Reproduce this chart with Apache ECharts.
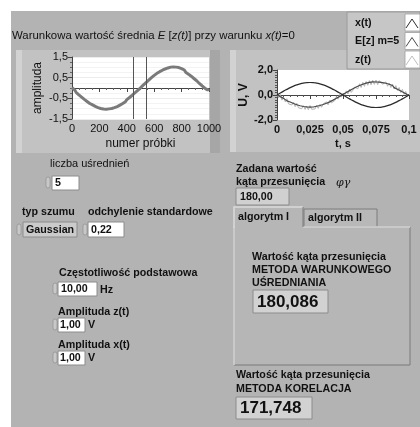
<!DOCTYPE html>
<html>
<head>
<meta charset="utf-8">
<script src="https://cdn.jsdelivr.net/npm/echarts@6/dist/echarts.min.js"></script>
<style>
html, body { margin: 0; padding: 0; background: #fff; }
#main { width: 420px; height: 427px; }
</style>
</head>
<body>
<div id="main"></div>
<script>
// --- dane ---
// warunkowa wartosc srednia E[z(t)], co 10 probek (0..1000)
const sredniaWar = [
  0.02, -0.05, -0.10, -0.21, -0.23, -0.33, -0.35, -0.44, -0.47, -0.55,
  -0.57, -0.65, -0.67, -0.75, -0.76, -0.82, -0.83, -0.89, -0.90, -0.95,
  -0.93, -0.99, -0.96, -1.02, -0.98, -1.03, -0.97, -1.01, -0.96, -0.99,
  -0.93, -0.95, -0.88, -0.90, -0.82, -0.83, -0.76, -0.75, -0.66, -0.66,
  -0.56, -0.57, -0.46, -0.45, -0.35, -0.34, -0.23, -0.22, -0.11, -0.08,
  0.01, 0.04, 0.14, 0.17, 0.26, 0.29, 0.38, 0.41, 0.50, 0.51,
  0.61, 0.62, 0.71, 0.70, 0.79, 0.78, 0.86, 0.85, 0.92, 0.90,
  0.97, 0.94, 1.01, 0.97, 1.02, 0.98, 1.01, 0.96, 0.99, 0.92,
  0.94, 0.85, 0.87, 0.76, 0.78, 0.67, 0.70, 0.57, 0.59, 0.46,
  0.48, 0.35, 0.34, 0.22, 0.22, 0.10, 0.09, -0.01, -0.05, -0.10,
  -0.04
];
const krokProbki = 10;
const kursory = [450, 545];

// x(t), co 0,0025 s
const xt = [
  0, 0.16, 0.31, 0.45, 0.59, 0.71, 0.81, 0.89, 0.95, 0.99,
  1.0, 0.99, 0.95, 0.89, 0.81, 0.71, 0.59, 0.45, 0.31, 0.16,
  0, -0.16, -0.31, -0.45, -0.59, -0.71, -0.81, -0.89, -0.95, -0.99,
  -1.0, -0.99, -0.95, -0.89, -0.81, -0.71, -0.59, -0.45, -0.31, -0.16,
  0
];
const krokXt = 0.0025;

// E[z] m=5 oraz z(t), co 0,00125 s
const ez = [
  0.03, -0.12, -0.13, -0.29, -0.27, -0.42, -0.47, -0.57, -0.56, -0.70,
  -0.68, -0.81, -0.78, -0.90, -0.86, -0.98, -0.92, -1.03, -0.95, -1.04,
  -0.97, -1.05, -0.96, -1.01, -0.90, -0.97, -0.84, -0.88, -0.76, -0.80,
  -0.66, -0.69, -0.55, -0.56, -0.41, -0.42, -0.26, -0.27, -0.11, -0.10,
  0.05, 0.04, 0.20, 0.21, 0.35, 0.36, 0.50, 0.49, 0.64, 0.61,
  0.76, 0.72, 0.86, 0.82, 0.95, 0.89, 1.01, 0.93, 1.05, 0.96,
  1.04, 0.95, 1.03, 0.92, 0.99, 0.87, 0.94, 0.80, 0.86, 0.70,
  0.76, 0.59, 0.64, 0.46, 0.50, 0.32, 0.35, 0.18, 0.19, 0.03,
  0.02
];
const zt = [
  0.05, -0.22, 0.04, -0.41, -0.18, -0.55, -0.30, -0.71, -0.62, -0.80,
  -0.58, -0.93, -0.66, -1.02, -0.98, -1.10, -0.85, -1.15, -0.88, -1.18,
  -0.84, -1.14, -1.06, -1.12, -0.82, -1.07, -0.75, -0.98, -0.70, -0.86,
  -0.55, -0.79, -0.40, -0.62, -0.58, -0.45, -0.12, -0.33, 0.06, -0.17,
  0.15, -0.05, 0.33, 0.08, 0.48, 0.21, 0.38, 0.63, 0.78, 0.50,
  0.90, 0.60, 1.02, 0.69, 1.08, 0.78, 1.15, 0.82, 1.18, 0.85,
  1.20, 0.83, 1.15, 1.10, 0.86, 0.78, 1.05, 0.70, 0.96, 0.60,
  0.88, 0.48, 0.75, 0.36, 0.60, 0.20, 0.45, 0.05, 0.28, -0.10,
  0.05
];
const krokZ = 0.00125;

const legenda = ['x(t)', 'E[z] m=5', 'z(t)'];
const koloryLegendy = ['#2b2b2b', '#4a4a4a', '#bdbdbd'];

const FONT = '"Liberation Sans", Arial, sans-serif';
const PANEL = '#b3b3b3';

function przecinek(v, d) {
  return v.toFixed(d).replace('.', ',');
}

function napis(x, y, t, font, dod) {
  return Object.assign({
    type: 'text', x: x, y: y, z: 30, silent: true,
    style: { text: t, font: font, fill: '#111', verticalAlign: 'middle' }
  }, dod || {});
}
function pole(x, y, w, h, fill) {
  return {
    type: 'rect', z: 20, silent: true,
    shape: { x: x, y: y, width: w, height: h },
    style: { fill: fill || '#fff', stroke: '#8c8c8c', lineWidth: 1 }
  };
}
function strzalki(x, y) {
  return {
    type: 'rect', z: 20, silent: true,
    shape: { x: x, y: y, width: 4, height: 11, r: 2 },
    style: { fill: '#c8c8c8', stroke: '#8f8f8f', lineWidth: 0.7 }
  };
}
function prostokat(x, y, w, h, fill, z) {
  return { type: 'rect', z: z || 1, silent: true, shape: { x: x, y: y, width: w, height: h }, style: { fill: fill } };
}

const B11 = 'bold 10.7px ' + FONT;
const R11 = '11px ' + FONT;

const elementy = [
  prostokat(11, 11, 409, 416, PANEL, 0),
  // ramki wykresow
  prostokat(16, 50, 204, 103, '#c2c2c2', 1),
  prostokat(16, 50, 6, 103, '#d2d2d2', 2),
  prostokat(210, 50, 10, 103, '#a6a6a6', 2),
  prostokat(230, 50, 190, 102, '#c2c2c2', 1),
  prostokat(230, 50, 6, 102, '#d2d2d2', 2),
  // tytul
  {
    type: 'text', x: 12, y: 36, z: 30, silent: true,
    style: {
      text: 'Warunkowa wartość średnia {i|E} [{i|z(t)}] przy warunku {i|x(t)}=0',
      font: '11.4px ' + FONT, fill: '#111', verticalAlign: 'middle',
      rich: { i: { fontStyle: 'italic', fontSize: 11.4, fontFamily: FONT, fill: '#111' } }
    }
  },
  // legenda
  { type: 'rect', z: 25, silent: true, shape: { x: 347, y: 12, width: 73, height: 57 },
    style: { fill: '#c6c6c6', stroke: '#9a9a9a', lineWidth: 1 } }
];
legenda.forEach(function (nazwa, i) {
  const y0 = 14 + i * 18.5;
  elementy.push(napis(355, y0 + 9, nazwa, B11));
  elementy.push({ type: 'rect', z: 26, silent: true, shape: { x: 405, y: y0, width: 15, height: 17 },
    style: { fill: '#fff', stroke: '#a0a0a0', lineWidth: 0.8 } });
  elementy.push({ type: 'polyline', z: 27, silent: true,
    shape: { points: [[406, y0 + 14], [412, y0 + 5], [418, y0 + 14]] },
    style: { stroke: koloryLegendy[i], lineWidth: 1, fill: null } });
});

elementy.push(
  // lewa kolumna kontrolek
  napis(50, 164, 'liczba uśrednień', R11),
  strzalki(46, 177), pole(52, 176, 27, 14), napis(55, 183, '5', B11),
  napis(22, 212, 'typ szumu', B11),
  napis(88, 212, 'odchylenie standardowe', B11),
  strzalki(17, 224), pole(23, 222, 54, 15, '#cbcbcb'), napis(26, 230, 'Gaussian', B11),
  strzalki(83, 224), pole(88, 222, 36, 15), napis(91, 230, '0,22', B11),
  napis(59, 273, 'Częstotliwość podstawowa', B11),
  strzalki(53, 283), pole(58, 282, 39, 14), napis(61, 289, '10,00', B11),
  napis(100, 290, 'Hz', B11),
  napis(58, 312, 'Amplituda z(t)', B11),
  strzalki(53, 319), pole(58, 318, 27, 14), napis(60, 325, '1,00', B11),
  napis(88, 325, 'V', B11),
  napis(58, 345, 'Amplituda x(t)', B11),
  strzalki(53, 352), pole(58, 351, 27, 14), napis(60, 358, '1,00', B11),
  napis(88, 358, 'V', B11),
  // prawa kolumna
  napis(236, 169, 'Zadana wartość', B11),
  napis(236, 182, 'kąta przesunięcia', B11),
  napis(336, 183, 'φγ', 'italic 11px "DejaVu Serif", serif'),
  pole(236, 188, 53, 17, '#d0d0d0'), napis(240, 197, '180,00', B11),
  // zakladki
  { type: 'rect', z: 10, silent: true, shape: { x: 304, y: 209, width: 73, height: 18 },
    style: { fill: '#b8b8b8', stroke: '#7c7c7c', lineWidth: 1 } },
  { type: 'rect', z: 11, silent: true, shape: { x: 234, y: 227, width: 176, height: 138 },
    style: { fill: '#b6b6b6', stroke: '#7a7a7a', lineWidth: 1 } },
  { type: 'polyline', z: 12, silent: true,
    shape: { points: [[234, 365], [234, 227], [410, 227]] },
    style: { stroke: '#dadada', lineWidth: 1.5, fill: null } },
  { type: 'rect', z: 12, silent: true, shape: { x: 234, y: 207, width: 69, height: 21 },
    style: { fill: '#b6b6b6', stroke: null } },
  { type: 'polyline', z: 13, silent: true,
    shape: { points: [[234, 228], [234, 207], [303, 207]] },
    style: { stroke: '#dadada', lineWidth: 1.5, fill: null } },
  { type: 'polyline', z: 13, silent: true,
    shape: { points: [[303, 207], [303, 227]] },
    style: { stroke: '#7a7a7a', lineWidth: 1, fill: null } },
  napis(238, 217, 'algorytm I', B11),
  napis(308, 218, 'algorytm II', B11),
  napis(252, 257, 'Wartość kąta przesunięcia', B11),
  napis(252, 270, 'METODA WARUNKOWEGO', B11),
  napis(252, 283, 'UŚREDNIANIA', B11),
  pole(253, 290, 75, 23, '#d2d2d2'), napis(257, 302, '180,086', 'bold 17px ' + FONT),
  napis(236, 375, 'Wartość kąta przesunięcia', B11),
  napis(236, 389, 'METODA KORELACJA', B11),
  pole(236, 397, 76, 22, '#d2d2d2'), napis(240, 408, '171,748', 'bold 17px ' + FONT)
);

const daneLewe = sredniaWar.map(function (v, i) { return [i * krokProbki, v]; });
const daneXt = xt.map(function (v, i) { return [i * krokXt, v]; });
const daneEz = ez.map(function (v, i) { return [i * krokZ, v]; });
const daneZt = zt.map(function (v, i) { return [i * krokZ, v]; });

const chart = echarts.init(document.getElementById('main'));

const liniaKursora = { color: '#555', width: 1, type: 'solid' };

const option = {
  animation: false,
  backgroundColor: '#fff',
  textStyle: { fontFamily: FONT },
  grid: [
    { left: 72, top: 57, width: 137, height: 62, show: true, backgroundColor: '#fff', borderWidth: 0, z: 5 },
    { left: 277, top: 70, width: 132, height: 50, show: true, backgroundColor: '#fff', borderWidth: 0, z: 5 }
  ],
  xAxis: [
    {
      gridIndex: 0, type: 'value', min: 0, max: 1000, interval: 200, z: 6,
      name: 'numer próbki', nameLocation: 'middle', nameGap: 19,
      nameTextStyle: { fontSize: 12, color: '#111' },
      axisLine: { lineStyle: { color: '#444' } },
      axisTick: { length: 4, lineStyle: { color: '#444' } },
      minorTick: { show: true, splitNumber: 4, length: 2, lineStyle: { color: '#666' } },
      splitLine: { show: false },
      axisLabel: { fontSize: 11, color: '#111', margin: 4, formatter: function (v) { return String(v); } }
    },
    {
      gridIndex: 1, type: 'value', min: 0, max: 0.1, interval: 0.025, z: 6,
      name: 't, s', nameLocation: 'middle', nameGap: 18,
      nameTextStyle: { fontSize: 11, fontWeight: 'bold', color: '#111' },
      axisLine: { lineStyle: { color: '#444' } },
      axisTick: { length: 4, lineStyle: { color: '#444' } },
      minorTick: { show: true, splitNumber: 5, length: 2, lineStyle: { color: '#555' } },
      splitLine: { show: false },
      axisLabel: {
        fontSize: 11, fontWeight: 'bold', color: '#111', margin: 4,
        formatter: function (v) { return v === 0 ? '0' : String(+v.toFixed(3)).replace('.', ','); }
      }
    }
  ],
  yAxis: [
    {
      gridIndex: 0, type: 'value', min: -1.5, max: 1.5, interval: 1, z: 6,
      name: 'amplituda', nameLocation: 'middle', nameGap: 28, nameRotate: 90,
      nameTextStyle: { fontSize: 12, color: '#111' },
      axisLine: { show: true, lineStyle: { color: '#444' } },
      axisTick: { show: true, length: 4, lineStyle: { color: '#444' } },
      minorTick: { show: true, splitNumber: 4, length: 2, lineStyle: { color: '#666' } },
      splitLine: { show: true, lineStyle: { color: '#ececec' } },
      minorSplitLine: { show: true, lineStyle: { color: '#f3f3f3' } },
      axisLabel: { fontSize: 11, color: '#111', margin: 4, formatter: function (v) { return przecinek(v, 1); } }
    },
    {
      gridIndex: 1, type: 'value', min: -2, max: 2, interval: 2, z: 6,
      name: 'U, V', nameLocation: 'middle', nameGap: 26, nameRotate: 90,
      nameTextStyle: { fontSize: 12, fontWeight: 'bold', color: '#111' },
      axisLine: { show: true, lineStyle: { color: '#444' } },
      axisTick: { show: true, length: 4, lineStyle: { color: '#444' } },
      minorTick: { show: true, splitNumber: 10, length: 2, lineStyle: { color: '#555' } },
      splitLine: { show: false },
      axisLabel: { fontSize: 11, fontWeight: 'bold', color: '#111', margin: 4, formatter: function (v) { return przecinek(v, 1); } }
    }
  ],
  series: [
    {
      name: 'E[z(t)]', type: 'line', xAxisIndex: 0, yAxisIndex: 0, z: 7,
      data: daneLewe, showSymbol: false,
      lineStyle: { color: '#7a7a7a', width: 3 },
      markLine: {
        z: 9, silent: true, symbol: 'none', label: { show: false },
        lineStyle: liniaKursora,
        emphasis: { disabled: true },
        data: kursory.map(function (k) { return { xAxis: k, lineStyle: liniaKursora }; })
      }
    },
    {
      name: legenda[2], type: 'line', xAxisIndex: 1, yAxisIndex: 1, z: 7,
      data: daneZt, showSymbol: false,
      lineStyle: { color: '#b4b4b4', width: 1 }
    },
    {
      name: legenda[1], type: 'line', xAxisIndex: 1, yAxisIndex: 1, z: 8,
      data: daneEz, showSymbol: false,
      lineStyle: { color: koloryLegendy[1], width: 1.2 }
    },
    {
      name: legenda[0], type: 'line', xAxisIndex: 1, yAxisIndex: 1, z: 9,
      data: daneXt, showSymbol: false, smooth: true,
      lineStyle: { color: koloryLegendy[0], width: 1.2 }
    }
  ],
  graphic: { elements: elementy }
};

chart.setOption(option);
</script>
</body>
</html>
